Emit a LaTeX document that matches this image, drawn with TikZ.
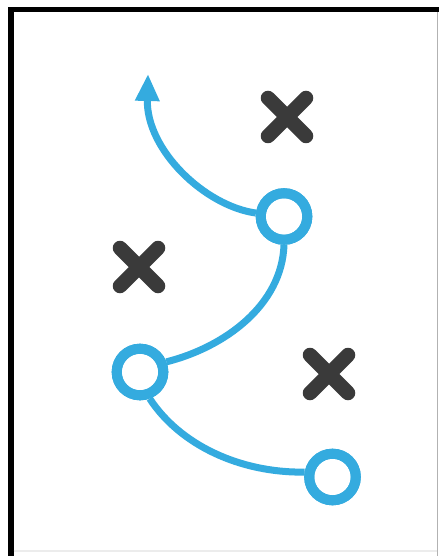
\documentclass[tikz,border=0pt]{standalone}
\usetikzlibrary{arrows.meta}
\definecolor{playblue}{RGB}{52,171,223}
\definecolor{markgray}{RGB}{58,58,58}
\tikzset{
  player/.style={circle, draw=playblue, line width=10pt, minimum size=46.6pt, inner sep=0pt, fill=white},
  defender/.style={draw=markgray, line width=14.5pt, line cap=round},
  route/.style={draw=playblue, line width=7pt},
}
\begin{document}
\begin{tikzpicture}[x=1pt, y=-1pt]
  % canvas and frame
  \useasboundingbox (0,0) rectangle (439,556);
  \fill[white] (0,0) rectangle (439,556);
  \fill[black] (8,7) rectangle (13.5,556);
  \fill[black] (8,7) rectangle (439,12);
  \draw[gray!60, line width=1pt] (437.5,12) -- (437.5,556);
  \draw[gray!15, line width=1.5pt] (13.5,551) -- (437,551);

  % defenders
  \coordinate (x1) at (287,117);
  \coordinate (x2) at (139,267);
  \coordinate (x3) at (329,374);
  \foreach \m in {x1,x2,x3}
    \draw[defender] (\m) +(-19,-19) -- +(19,19)
                    (\m) +(-19,19) -- +(19,-19);

  % players and routes
  \coordinate (tip) at (148,74);
  \node[player] (c1) at (284,216.5) {};
  \node[player] (c2) at (140,372) {};
  \node[player] (c3) at (332.5,477) {};

  \path[route, -{Triangle[length=27pt, width=23pt]}]
    (c1.173) .. controls (205,206) and (146,150) .. (tip);
  \path[route] (c1.south) .. controls (282,305) and (225,347) .. (c2.21);
  \path[route] (c2.-70) .. controls (180,445) and (240,473) .. (c3.170);

  % rings drawn again over the route ends
  \node[player, fill=none] at (c1) {};
  \node[player, fill=none] at (c2) {};
  \node[player, fill=none] at (c3) {};
\end{tikzpicture}
\end{document}
